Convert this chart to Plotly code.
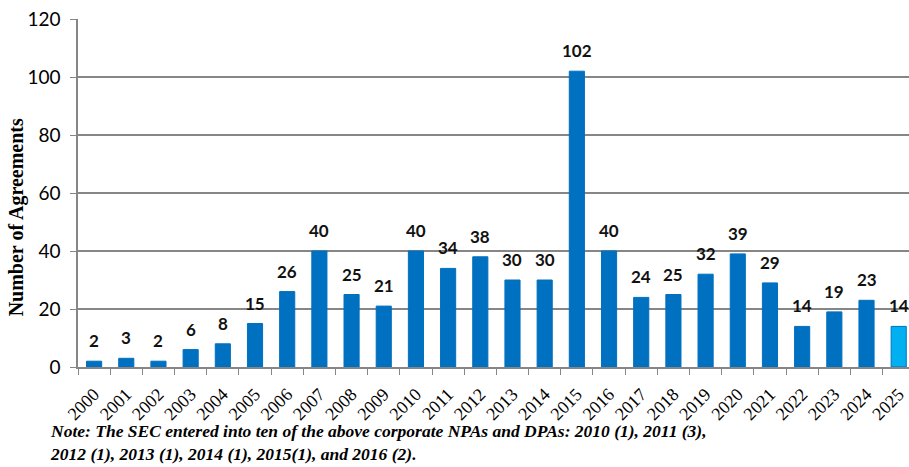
import plotly.graph_objects as go

# Corporate NPAs and DPAs per year
years = [str(y) for y in range(2000, 2026)]
agreements = [2, 3, 2, 6, 8, 15, 26, 40, 25, 21, 40, 34, 38, 30, 30,
              102, 40, 24, 25, 32, 39, 29, 14, 19, 23, 14]
y_ticks = [0, 20, 40, 60, 80, 100, 120]

bar_colors = ["#0070C0"] * (len(years) - 1) + ["#00B0F0"]

fig = go.Figure()
fig.add_trace(go.Bar(
    x=years,
    y=agreements,
    width=0.47,
    marker=dict(color=bar_colors, line=dict(color="#0070C0", width=1)),
    cliponaxis=False,
    showlegend=False,
))

# value labels above each bar (category positions are indices)
for i, v in enumerate(agreements):
    fig.add_annotation(
        x=i, y=v, text=f"<b>{v}</b>", showarrow=False,
        yanchor="bottom", yshift=8,
        font=dict(family="Lato, Carlito, sans-serif", size=17, color="#111111"),
    )

fig.add_annotation(
    xref="paper", yref="paper", x=-0.036, y=-0.15, xanchor="left", yanchor="top",
    align="left", showarrow=False,
    text=("<b><i>Note: The SEC entered into ten of the above corporate NPAs and DPAs: "
          "2010 (1), 2011 (3),</i></b><br><b><i>2012 (1), 2013 (1), 2014 (1), 2015(1), "
          "and 2016 (2).</i></b>"),
    font=dict(family="Liberation Serif, Times New Roman, serif", size=17.5, color="#000000"),
)

# y-axis title
fig.add_annotation(
    xref="paper", yref="paper", x=0, y=0.43, xanchor="center", yanchor="middle",
    xshift=-62,
    textangle=-90, showarrow=False,
    text="<b>Number of Agreements</b>",
    font=dict(family="Liberation Serif, Times New Roman, serif", size=20, color="#000000"),
)

fig.update_layout(
    width=909, height=467,
    margin=dict(l=78, r=0, t=19, b=100),
    paper_bgcolor="white", plot_bgcolor="white",
    xaxis=dict(
        type="category",
        range=[-0.5, 25.32],
        tickangle=-45,
        ticks="outside", tickson="boundaries", ticklen=6, tickcolor="#868686",
        showline=True, linecolor="#868686", linewidth=1.5,
        showgrid=False,
        ticklabelstandoff=8,
        tickfont=dict(family="Liberation Serif, Times New Roman, serif", size=18, color="#000000"),
    ),
    yaxis=dict(
        range=[0, 120],
        tickvals=y_ticks,
        ticks="outside", ticklen=6, tickcolor="#868686",
        showline=True, linecolor="#868686", linewidth=1.5,
        showgrid=True, gridcolor="#868686", gridwidth=1.5,
        zeroline=False,
        ticklabelstandoff=6,
        tickfont=dict(family="Lato, Carlito, sans-serif", size=19, color="#000000"),
    ),
)

fig.write_html("out.html")
